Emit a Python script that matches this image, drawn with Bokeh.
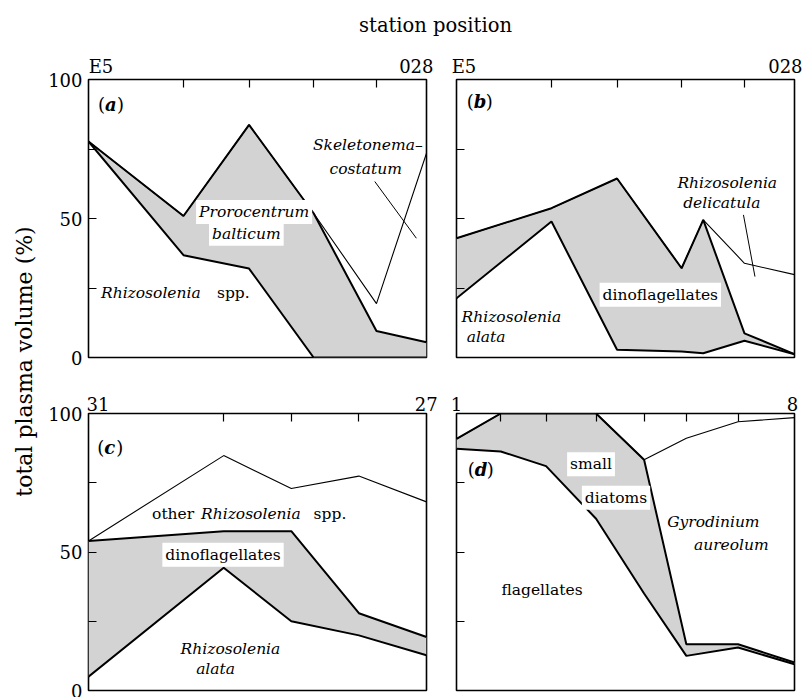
import numpy as np
from bokeh.plotting import figure
from bokeh.layouts import row, column
from bokeh.models import Range1d, FixedTicker, LinearAxis, Label
from bokeh.embed import file_html
from bokeh.resources import INLINE

FONT = "DejaVu Serif"
SHADE = "#d3d3d3"

# ---------------- data (station position as % of transect, cumulative % plasma volume)
# (a) stations E5 ... 028
a_x = [0, 28.1, 47.5, 66.6, 85.2, 100]
a_rhizosolenia = [77.7, 36.8, 32.0, 0.0, 0.0, 0.0]
a_prorocentrum = [77.7, 50.9, 83.7, 51.9, 9.5, 5.5]
a_skeletonema = [77.7, 50.9, 83.7, 51.9, 19.4, 73.5]
a_ticks = [28.1, 47.5, 66.6, 85.2]
a_stations = {3.7: "E5", 97.0: "028"}

# (b) stations E5 ... 028
b_x = [0, 28.1, 47.5, 66.6, 73.0, 85.2, 100]
b_alata = [21.3, 48.9, 2.8, 2.2, 1.5, 6.0, 1.2]
b_dinoflagellates = [42.9, 53.7, 64.4, 32.1, 49.5, 8.7, 1.2]
b_delicatula = [42.9, 53.7, 64.4, 32.1, 49.5, 33.9, 29.8]
b_ticks = [28.1, 47.5, 66.6, 85.2]
b_stations = {2.2: "E5", 97.3: "028"}

# (c) stations 31 ... 27
c_x = [0, 40, 60, 80, 100]
c_alata = [5.0, 44.3, 25.0, 19.9, 12.7]
c_dinoflagellates = [54.0, 57.5, 57.5, 27.9, 19.3]
c_other = [54.0, 84.8, 72.9, 77.4, 68.1]
c_ticks = [40, 60, 80]
c_stations = {2.8: "31", 99.9: "27"}

# (d) stations 1 ... 8
d_x = [0, 13.1, 26.5, 41.3, 55.5, 68.0, 83.3, 100]
d_flagellates = [87.3, 86.3, 81.0, 62.0, 35.0, 12.5, 15.5, 9.5]
d_diatoms = [90.8, 100, 100, 100, 83.3, 16.7, 16.7, 10.1]
d_gyrodinium = [90.8, 100, 100, 100, 83.3, 91.1, 97.0, 98.5]
d_ticks = [13.1, 26.5, 41.3, 55.5, 68.0, 83.3]
d_stations = {0.0: "1", 99.4: "8"}

y_major = [0, 50, 100]
y_minor = [25, 75]

# leader lines (annotation)
a_leader = ([84.7, 97.0], [63.3, 42.9])
b_leader = ([84.9, 88.3], [51.3, 29.1])

LBL = "15.5px"


def make_panel(width, height, mbl, mbr, mbt, mbb, ticks, names, show_labels):
    p = figure(width=width, height=height, x_range=Range1d(0, 100), y_range=Range1d(0, 100),
               x_axis_location=None, output_backend="svg", toolbar_location=None,
               min_border_left=mbl, min_border_right=mbr, min_border_top=mbt, min_border_bottom=mbb,
               background_fill_color="white", border_fill_color="white")
    p.xgrid.visible = False
    p.ygrid.visible = False
    p.outline_line_color = "black"
    p.outline_line_width = 1.6
    ya = p.yaxis[0]
    if show_labels:
        ya.ticker = FixedTicker(ticks=y_major, minor_ticks=y_minor)
    else:
        ya.ticker = FixedTicker(ticks=[], minor_ticks=y_minor + [50])
    ya.axis_line_color = None
    ya.major_tick_in = 8
    ya.major_tick_out = 0
    ya.minor_tick_in = 8
    ya.minor_tick_out = 0
    ya.major_tick_line_width = 1.2
    ya.minor_tick_line_width = 1.2
    ya.minor_tick_line_color = "black"
    ya.major_label_standoff = 6
    ya.major_label_text_font = FONT
    ya.major_label_text_font_size = "18px"
    ya.major_label_text_color = "black"
    top = LinearAxis(ticker=FixedTicker(ticks=list(names.keys()), minor_ticks=ticks),
                     major_tick_line_color=None, major_tick_in=0, major_tick_out=0,
                     minor_tick_in=8, minor_tick_out=0, minor_tick_line_width=1.2,
                     minor_tick_line_color="black", axis_line_color=None,
                     major_label_overrides=names, major_label_standoff=3,
                     major_label_text_font=FONT, major_label_text_font_size="18px",
                     major_label_text_color="black")
    p.add_layout(top, "above")
    return p


def txt(p, x, y, text, size=LBL, style="normal", align="left", bg=False, xo=0, yo=0,
        baseline="middle"):
    kw = dict(x=x, y=y, text=text, text_font=FONT, text_font_size=size, text_font_style=style,
              text_align=align, text_baseline=baseline, text_color="black", x_offset=xo, y_offset=yo)
    if bg:
        kw.update(background_fill_color="white", padding=3)
    p.add_layout(Label(**kw))


def panel_tag(p, x, y, letter):
    txt(p, x, y, "(", size="18px")
    txt(p, x, y, letter, size="18px", style="bold italic", xo=7)
    txt(p, x, y, ")", size="18px", xo=19)


# ---------------- panels
fa = make_panel(401, 331, 48, 15, 39, 14, a_ticks, a_stations, True)
fb = make_panel(363, 331, 15, 10, 39, 14, b_ticks, b_stations, False)
fc = make_panel(401, 326, 48, 15, 42, 7, c_ticks, c_stations, True)
fd = make_panel(363, 326, 15, 10, 42, 7, d_ticks, d_stations, False)

# (a)
fa.varea(x=a_x, y1=a_rhizosolenia, y2=a_prorocentrum, fill_color=SHADE)
fa.line(a_x, a_skeletonema, line_color="black", line_width=1.1)
fa.line(a_x, a_rhizosolenia, line_color="black", line_width=2)
fa.line(a_x, a_prorocentrum, line_color="black", line_width=2)
fa.line(a_leader[0], a_leader[1], line_color="black", line_width=1)
panel_tag(fa, 2.8, 91, "a")
txt(fa, 49, 52.3, "Prorocentrum", style="italic", align="center", bg=True)
txt(fa, 46.7, 44.5, "balticum", style="italic", align="center", bg=True)
txt(fa, 3.7, 23.1, "Rhizosolenia", style="italic")
txt(fa, 38.0, 23.1, "spp.")
txt(fa, 66.4, 76.5, "Skeletonema\u2013", style="italic")
txt(fa, 71.3, 67.8, "costatum", style="italic")

# (b)
fb.varea(x=b_x, y1=b_alata, y2=b_dinoflagellates, fill_color=SHADE)
fb.line(b_x, b_delicatula, line_color="black", line_width=1.1)
fb.line(b_x, b_alata, line_color="black", line_width=2)
fb.line(b_x, b_dinoflagellates, line_color="black", line_width=2)
fb.line(b_leader[0], b_leader[1], line_color="black", line_width=1)
panel_tag(fb, 3.0, 92, "b")
txt(fb, 80.1, 62.6, "Rhizosolenia", style="italic", align="center")
txt(fb, 78.5, 55.5, "delicatula", style="italic", align="center")
txt(fb, 60.3, 22.6, "dinoflagellates", align="center", bg=True)
txt(fb, 1.5, 14.7, "Rhizosolenia", style="italic")
txt(fb, 3.0, 7.5, "alata", style="italic")

# (c)
fc.varea(x=c_x, y1=c_alata, y2=c_dinoflagellates, fill_color=SHADE)
fc.line(c_x, c_other, line_color="black", line_width=1.1)
fc.line(c_x, c_alata, line_color="black", line_width=2)
fc.line(c_x, c_dinoflagellates, line_color="black", line_width=2)
panel_tag(fc, 2.6, 87.9, "c")
txt(fc, 18.8, 63.6, "other")
txt(fc, 33.3, 63.6, "Rhizosolenia", style="italic")
txt(fc, 66.6, 63.6, "spp.")
txt(fc, 39.8, 49.0, "dinoflagellates", align="center", bg=True)
txt(fc, 42.0, 15.1, "Rhizosolenia", style="italic", align="center")
txt(fc, 37.6, 7.6, "alata", style="italic", align="center")

# (d)
fd.varea(x=d_x, y1=d_flagellates, y2=d_diatoms, fill_color=SHADE)
fd.line(d_x, d_gyrodinium, line_color="black", line_width=1.1)
fd.line(d_x, d_flagellates, line_color="black", line_width=2)
fd.line(d_x, d_diatoms, line_color="black", line_width=2)
panel_tag(fd, 3.3, 79.9, "d")
txt(fd, 39.8, 81.7, "small", align="center", bg=True)
txt(fd, 47.2, 69.6, "diatoms", align="center", bg=True)
txt(fd, 76.0, 60.7, "Gyrodinium", style="italic", align="center")
txt(fd, 81.3, 52.4, "aureolum", style="italic", align="center")
txt(fd, 25.3, 36.3, "flagellates", align="center")

# ---------------- title strip and y-label strip
tf = figure(width=804, height=40, x_range=Range1d(0, 804), y_range=Range1d(0, 40),
            x_axis_location=None, y_axis_location=None, output_backend="svg", toolbar_location=None,
            min_border=0, outline_line_color=None, background_fill_color="white", border_fill_color="white")
tf.xgrid.visible = False
tf.ygrid.visible = False
tf.add_layout(Label(x=435, y=15, text="station position", text_font=FONT, text_font_size="19.5px",
                    text_align="center", text_baseline="middle", text_color="black"))

yf = figure(width=40, height=657, x_range=Range1d(0, 40), y_range=Range1d(0, 657),
            x_axis_location=None, y_axis_location=None, output_backend="svg", toolbar_location=None,
            min_border=0, outline_line_color=None, background_fill_color="white", border_fill_color="white")
yf.xgrid.visible = False
yf.ygrid.visible = False
yf.add_layout(Label(x=24, y=336, text="total plasma volume (%)", text_font=FONT, text_font_size="22px",
                    text_align="center", text_baseline="middle", angle=np.pi / 2, text_color="black"))

layout = column(tf, row(yf, column(row(fa, fb), row(fc, fd))))

open("out.html", "w").write(file_html(layout, INLINE))
